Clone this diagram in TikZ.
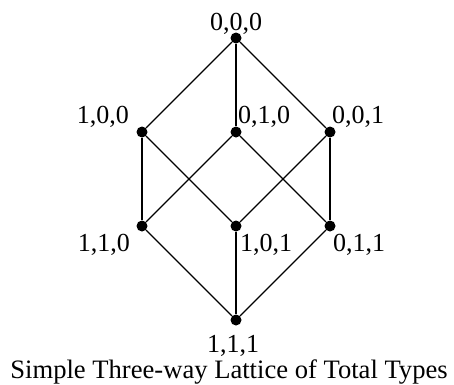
\documentclass[tikz,border=0pt]{standalone}
\usepackage{fontspec}
\setmainfont{Liberation Serif}
\usetikzlibrary{positioning}

\begin{document}
\begin{tikzpicture}[
  node distance=94pt and 94pt, on grid,
  dot/.style={circle, fill, inner sep=0pt, minimum size=11pt},
  lbl/.style={inner sep=0pt, font=\fontsize{26}{28}\selectfont},
  edge/.style={line width=1.1pt}]

  \useasboundingbox (0,0) rectangle (454pt,-384pt);

  % lattice points
  \node[dot] (n000) at (236pt,-38pt) {};
  \node[dot, below left=of n000] (n100) {};
  \node[dot, below=of n000] (n010) {};
  \node[dot, below right=of n000] (n001) {};
  \node[dot, below=of n100] (n110) {};
  \node[dot, below=of n010] (n101) {};
  \node[dot, below=of n001] (n011) {};
  \node[dot, below=of n101] (n111) {};

  % labels
  \node[lbl, anchor=base] (t000) at ([shift={(0pt,8pt)}]n000.center) {0,0,0};
  \node[lbl, anchor=base east] (t100) at ([shift={(-13pt,9pt)}]n100.center) {1,0,0};
  \node[lbl, anchor=base west] (t010) at ([shift={(2pt,9pt)}]n010.center) {0,1,0};
  \node[lbl, anchor=base west] (t001) at ([shift={(2pt,9pt)}]n001.center) {0,0,1};
  \node[lbl, anchor=base east] (t110) at ([shift={(-12pt,-25pt)}]n110.center) {1,1,0};
  \node[lbl, anchor=base west] (t101) at ([shift={(4pt,-25pt)}]n101.center) {1,0,1};
  \node[lbl, anchor=base west] (t011) at ([shift={(3pt,-25pt)}]n011.center) {0,1,1};
  \node[lbl, anchor=base] (t111) at ([shift={(-3pt,-32pt)}]n111.center) {1,1,1};
  \node[lbl, anchor=base, font=\fontsize{26.6}{28}\selectfont] (title) at (229pt,-378pt) {Simple Three-way Lattice of Total Types};

  % edges
  \draw[edge] (n000) -- (n100);
  \draw[edge] (n000) -- (n010);
  \draw[edge] (n000) -- (n001);
  \draw[edge] (n100) -- (n110);
  \draw[edge] (n100) -- (n101);
  \draw[edge] (n010) -- (n110);
  \draw[edge] (n010) -- (n011);
  \draw[edge] (n001) -- (n101);
  \draw[edge] (n001) -- (n011);
  \draw[edge] (n110) -- (n111);
  \draw[edge] (n101) -- (n111);
  \draw[edge] (n011) -- (n111);
\end{tikzpicture}
\end{document}
